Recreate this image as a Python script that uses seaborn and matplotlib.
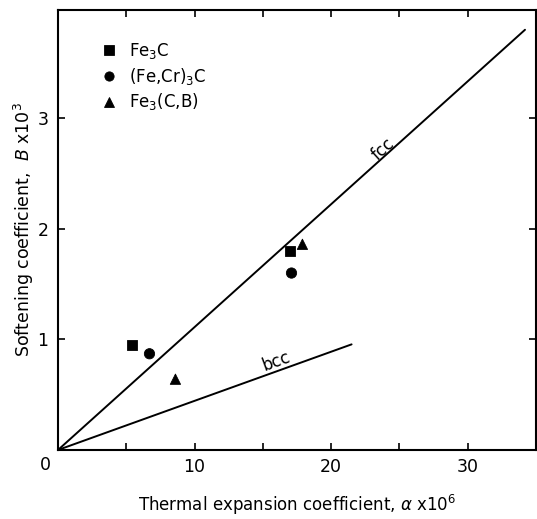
import numpy as np
import pandas as pd
import matplotlib
matplotlib.use("Agg")
import matplotlib.pyplot as plt
import seaborn as sns

# carbide data
carbides = ['Fe$_3$C', 'Fe$_3$C', '(Fe,Cr)$_3$C', '(Fe,Cr)$_3$C', 'Fe$_3$(C,B)', 'Fe$_3$(C,B)']
alpha = [5.4, 17.0, 6.7, 17.1, 8.6, 17.9]
softening = [0.95, 1.80, 0.87, 1.60, 0.64, 1.86]

# reference lines
fcc_x = [0, 34.2]
fcc_y = [0, 3.80]
bcc_x = [0, 21.5]
bcc_y = [0, 0.955]

df = pd.DataFrame({'Carbide': carbides, 'alpha': alpha, 'B': softening})

sns.set_style("ticks")
plt.rcParams['font.family'] = ['DejaVu Sans']
plt.rcParams['mathtext.fontset'] = 'dejavusans'
plt.rcParams['text.color'] = 'black'
plt.rcParams['axes.labelcolor'] = 'black'
plt.rcParams['xtick.color'] = 'black'
plt.rcParams['ytick.color'] = 'black'
plt.rcParams['axes.edgecolor'] = 'black'

fig = plt.figure(figsize=(5.37, 5.19), dpi=100)
ax = fig.add_axes([0.108, 0.133, 0.890, 0.848])

ax.plot(fcc_x, fcc_y, color='black', lw=1.4)
ax.plot(bcc_x, bcc_y, color='black', lw=1.4)

sns.scatterplot(data=df, x='alpha', y='B', hue='Carbide', style='Carbide',
                palette=['black', 'black', 'black'],
                markers=['s', 'o', '^'], s=55, edgecolor='black', ax=ax)

ax.set_xlim(0, 35)
ax.set_ylim(0, 3.98)
ax.set_xticks([10, 20, 30])
ax.set_xticks([5, 15, 25], minor=True)
ax.set_yticks([1, 2, 3])
ax.tick_params(which='both', direction='in', top=True, right=True,
               labelsize=12.5, length=5, width=1.2)
ax.tick_params(axis='x', pad=6)
ax.tick_params(axis='y', pad=7)
for s in ax.spines.values():
    s.set_linewidth(1.5)

ax.annotate('0', xy=(0, 0), xytext=(-9, -11), textcoords='offset points',
            fontsize=12.5, ha='center', va='center')

ax.text(23.8, 2.72, 'fcc', rotation=42, fontsize=12, ha='center', va='center')
ax.text(16.0, 0.80, 'bcc', rotation=20, fontsize=12, ha='center', va='center')

ax.set_xlabel(r'Thermal expansion coefficient, $\alpha$ x10$^6$', fontsize=12, labelpad=12)
ax.set_ylabel(r'Softening coefficient,  $B$ x10$^3$', fontsize=12.5, labelpad=1)

leg = ax.legend(loc='upper left', bbox_to_anchor=(0.04, 0.963), frameon=False,
                fontsize=12, handletextpad=0.2, labelspacing=0.28,
                markerscale=0.9)

fig.savefig('out.png', dpi=100)
